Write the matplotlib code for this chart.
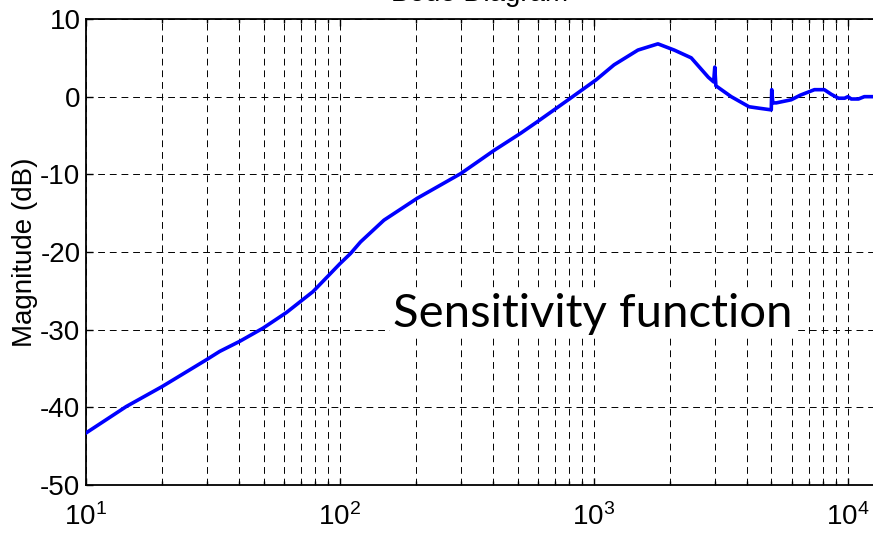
import numpy as np
import matplotlib
matplotlib.use("Agg")
import matplotlib.pyplot as plt
from matplotlib.ticker import LogLocator, FixedLocator

# Sensitivity function magnitude (Hz, dB)
freq_hz = [10, 14.4, 20, 29.7, 33.6, 40.3, 49.8, 61.5, 78.3, 88.5, 100, 110,
           120.5, 149, 201, 299, 405, 515, 600, 676, 800, 1018, 1200, 1490,
           1786, 2070, 2415, 2820, 2960, 2990, 3020, 3470, 4080, 4500, 4990,
           5010, 5060, 5220, 5980, 6500, 7380, 8070, 8600, 9180, 9700, 10000,
           10300, 11000, 11600, 12550]
mag_db = [-43.3, -39.9, -37.3, -33.9, -32.8, -31.5, -29.8, -27.8, -25.1, -23.3,
          -21.5, -20.2, -18.7, -15.9, -13.1, -9.9, -6.9, -4.7, -3.2, -2.0, -0.3,
          2.15, 4.1, 6.0, 6.8, 6.0, 5.0, 2.5, 1.9, 3.8, 1.4, 0.0, -1.3, -1.5,
          -1.7, 0.9, -0.8, -0.8, -0.4, 0.2, 0.9, 0.9, 0.3, -0.2, -0.2, 0.0,
          -0.3, -0.3, 0.0, 0.0]
y_ticks = [-50, -40, -30, -20, -10, 0, 10]

plt.rcParams['font.family'] = ['Liberation Sans', 'DejaVu Sans']
plt.rcParams['mathtext.default'] = 'regular'
plt.rcParams['axes.unicode_minus'] = False

fig = plt.figure(figsize=(8.73, 5.41), dpi=100)
ax = fig.add_axes([86/873, 56/541, 1 - 86/873, 466/541])

ax.semilogx(freq_hz, mag_db, color=(0, 0, 1), lw=2.6, zorder=3)
ax.set_xlim(10, 12550)
ax.set_ylim(-50, 10)
ax.yaxis.set_major_locator(FixedLocator(y_ticks))
ax.xaxis.set_major_locator(LogLocator(base=10))
ax.xaxis.set_minor_locator(LogLocator(base=10, subs=np.arange(2, 10)))

grid_kw = dict(color='black', linestyle=(0, (7, 5)), linewidth=0.7)
ax.grid(True, which='major', axis='both', **grid_kw)
ax.grid(True, which='minor', axis='x', **grid_kw)

for s in ['left', 'top', 'bottom']:
    ax.spines[s].set_linewidth(1.3)
ax.spines['right'].set_visible(False)
ax.tick_params(which='both', direction='in', top=True, right=False,
               labelsize=20, width=1.0)
ax.tick_params(which='major', length=5)
ax.tick_params(which='minor', length=3)
ax.tick_params(axis='x', pad=13)
ax.tick_params(axis='y', pad=4)

ax.set_ylabel('Magnitude (dB)', fontsize=20)
ax.yaxis.set_label_coords(-48/787, 0.5)
ax.set_title('Bode Diagram', fontsize=20, pad=13)

ax.text(0.39, 0.34, 'Sensitivity function', transform=ax.transAxes,
        fontsize=34, family=['Lato', 'DejaVu Sans'], color='black', zorder=4,
        bbox=dict(facecolor='white', edgecolor='none', pad=2))

fig.savefig('out.png', dpi=100)
